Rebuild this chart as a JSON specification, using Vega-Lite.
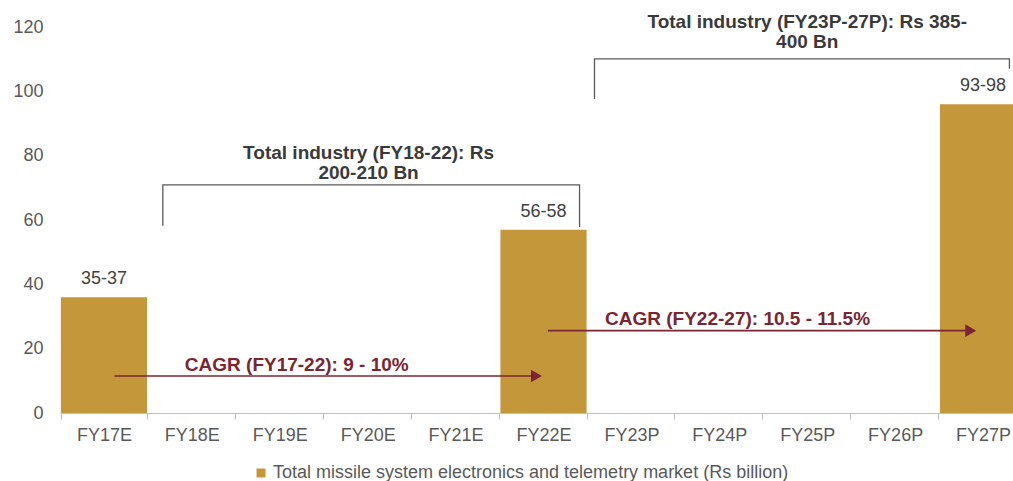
{
  "$schema": "https://vega.github.io/schema/vega-lite/v6.json",
  "width": 953,
  "height": 386,
  "autosize": {"type": "none"},
  "padding": {"left": 60, "top": 27, "right": 0, "bottom": 68},
  "background": "white",
  "config": {
    "view": {"stroke": null},
    "font": "Liberation Sans",
    "axis": {"grid": false, "labelFont": "Liberation Sans", "labelFontSize": 18, "labelColor": "#595959", "title": null}
  },
  "datasets": {
    "market": [
      {"year": "FY17E", "value": 36, "label": "35-37"},
      {"year": "FY18E", "value": null, "label": null},
      {"year": "FY19E", "value": null, "label": null},
      {"year": "FY20E", "value": null, "label": null},
      {"year": "FY21E", "value": null, "label": null},
      {"year": "FY22E", "value": 57, "label": "56-58"},
      {"year": "FY23P", "value": null, "label": null},
      {"year": "FY24P", "value": null, "label": null},
      {"year": "FY25P", "value": null, "label": null},
      {"year": "FY26P", "value": null, "label": null},
      {"year": "FY27P", "value": 96, "label": "93-98"}
    ],
    "brackets": [
      {"id": "b1", "ord": 1, "pos": 1.17, "val": 58.2},
      {"id": "b1", "ord": 2, "pos": 1.17, "val": 70.9},
      {"id": "b1", "ord": 3, "pos": 5.91, "val": 70.9},
      {"id": "b1", "ord": 4, "pos": 5.91, "val": 57.8},
      {"id": "b2", "ord": 1, "pos": 6.08, "val": 97.6},
      {"id": "b2", "ord": 2, "pos": 6.08, "val": 110.1},
      {"id": "b2", "ord": 3, "pos": 10.8, "val": 110.1},
      {"id": "b2", "ord": 4, "pos": 10.8, "val": 107}
    ],
    "arrows": [
      {"id": "a1", "pos": 0.62, "pos2": 5.42, "tip": 5.42, "val": 11.5},
      {"id": "a2", "pos": 5.55, "pos2": 10.36, "tip": 10.36, "val": 25.6}
    ],
    "notes": [
      {"kind": "cagr", "pos": 1.42, "val": 14.9, "text": "CAGR (FY17-22): 9 - 10%"},
      {"kind": "cagr", "pos": 6.2, "val": 29.2, "text": "CAGR (FY22-27): 10.5 - 11.5%"},
      {"kind": "total", "pos": 3.51, "val": 80.8, "text": "Total industry (FY18-22): Rs\n200-210 Bn"},
      {"kind": "total", "pos": 8.5, "val": 121.6, "text": "Total industry (FY23P-27P): Rs 385-\n400 Bn"}
    ]
  },
  "layer": [
    {
      "data": {"name": "market"},
      "encoding": {
        "x": {
          "field": "year",
          "type": "nominal",
          "sort": null,
          "scale": {"domain": ["FY17E", "FY18E", "FY19E", "FY20E", "FY21E", "FY22E", "FY23P", "FY24P", "FY25P", "FY26P", "FY27P"], "range": [0, 967], "paddingInner": 0.02, "paddingOuter": 0.01},
          "axis": {"labelAngle": 0, "domainColor": "#BFBFBF", "tickColor": "#BFBFBF", "tickBand": "extent", "tickSize": 6, "labelPadding": 7, "labelFontSize": 18}
        },
        "y": {
          "field": "value",
          "type": "quantitative",
          "scale": {"domain": [0, 120], "nice": false},
          "axis": {"values": [0, 20, 40, 60, 80, 100, 120], "domain": false, "ticks": false, "labelPadding": 17}
        }
      },
      "layer": [
        {
          "mark": {"type": "bar"},
          "encoding": {
            "color": {
              "datum": "Total missile system electronics and telemetry market (Rs billion)",
              "type": "nominal",
              "scale": {"range": ["#C4973B"]},
              "legend": {"orient": "none", "legendX": 192, "legendY": 437, "direction": "horizontal", "title": null, "symbolType": "square", "symbolSize": 81, "symbolStrokeWidth": 0, "labelFontSize": 18, "labelColor": "#595959", "labelLimit": 0, "labelOffset": 3}
            }
          }
        },
        {
          "mark": {"type": "text", "baseline": "middle", "dy": -18, "fontSize": 18, "color": "#404040"},
          "encoding": {"text": {"field": "label"}}
        }
      ]
    },
    {
      "encoding": {
        "y": {
          "field": "val",
          "type": "quantitative",
          "scale": {"domain": [0, 120], "nice": false},
          "axis": {"values": [0, 20, 40, 60, 80, 100, 120], "domain": false, "ticks": false, "labelPadding": 17}
        }
      },
      "layer": [
        {
          "data": {"name": "brackets"},
          "mark": {"type": "line", "color": "#595959", "strokeWidth": 1.3, "interpolate": "linear"},
          "encoding": {
            "x": {"field": "pos", "type": "quantitative", "scale": {"domain": [0, 11], "range": [0, 967], "nice": false, "zero": false}, "axis": null},
            "detail": {"field": "id"},
            "order": {"field": "ord"}
          }
        },
        {
          "data": {"name": "arrows"},
          "mark": {"type": "rule", "color": "#7B2432", "strokeWidth": 1.7},
          "encoding": {
            "x": {"field": "pos", "type": "quantitative", "scale": {"domain": [0, 11], "range": [0, 967], "nice": false, "zero": false}, "axis": null},
            "x2": {"field": "pos2"}
          }
        },
        {
          "data": {"name": "arrows"},
          "mark": {"type": "point", "shape": "triangle-right", "filled": true, "size": 160, "color": "#7B2432", "opacity": 1},
          "encoding": {
            "x": {"field": "tip", "type": "quantitative", "scale": {"domain": [0, 11], "range": [0, 967], "nice": false, "zero": false}, "axis": null}
          }
        },
        {
          "data": {"name": "notes"},
          "transform": [{"filter": "datum.kind == 'cagr'"}],
          "mark": {"type": "text", "align": "left", "baseline": "middle", "fontSize": 19, "fontWeight": "bold", "color": "#7B2432"},
          "encoding": {
            "x": {"field": "pos", "type": "quantitative", "scale": {"domain": [0, 11], "range": [0, 967], "nice": false, "zero": false}, "axis": null},
            "text": {"field": "text"}
          }
        },
        {
          "data": {"name": "notes"},
          "transform": [{"filter": "datum.kind == 'total'"}],
          "mark": {"type": "text", "align": "center", "baseline": "middle", "fontSize": 19, "fontWeight": "bold", "color": "#3A3A3A", "lineBreak": "\n", "lineHeight": 20},
          "encoding": {
            "x": {"field": "pos", "type": "quantitative", "scale": {"domain": [0, 11], "range": [0, 967], "nice": false, "zero": false}, "axis": null},
            "text": {"field": "text"}
          }
        }
      ]
    }
  ],
  "resolve": {"scale": {"x": "independent"}}
}
